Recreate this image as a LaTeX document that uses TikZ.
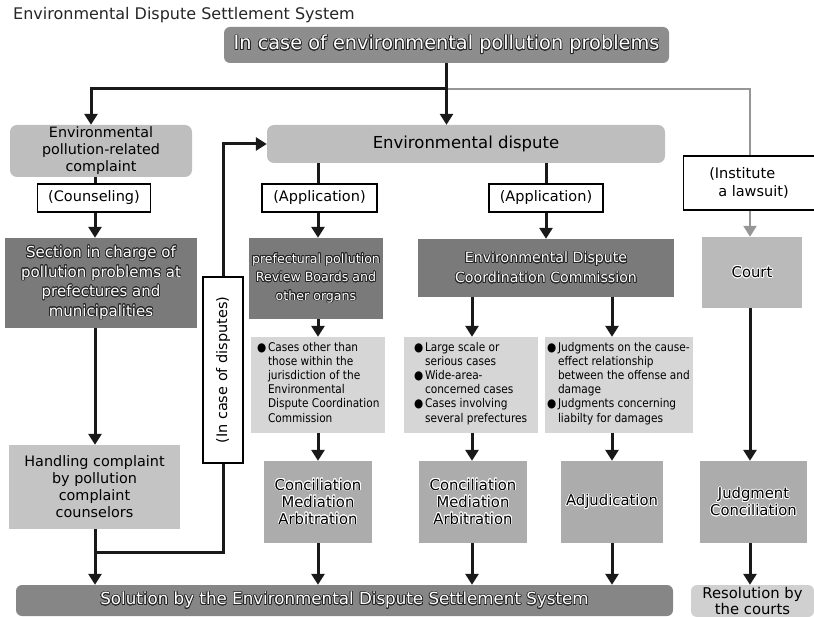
\documentclass[tikz,border=0pt]{standalone}
\usepackage{fontspec}
\setmainfont{DejaVu Sans}
\newfontfamily\condfont{DejaVu Sans}[FakeStretch=0.88]
\usepackage[copies]{contour}
\contourlength{0.7pt}
\contournumber{20}
\usetikzlibrary{arrows.meta}
\definecolor{cTop}{RGB}{141,141,141}
\definecolor{cDark}{RGB}{122,122,122}
\definecolor{cLight}{RGB}{190,190,190}
\definecolor{cHand}{RGB}{196,196,196}
\definecolor{cCase}{RGB}{214,214,214}
\definecolor{cMid}{RGB}{172,172,172}
\definecolor{cCourt}{RGB}{186,186,186}
\definecolor{cSol}{RGB}{134,134,134}
\definecolor{cRes}{RGB}{208,208,208}
\definecolor{cLine}{RGB}{25,25,25}
\definecolor{cGray}{RGB}{150,150,150}
\newcommand\wo[1]{\contour{black!85}{#1}}
\newcommand\ko[1]{\contour{white}{#1}}
\newcommand\fsz[2]{\fontsize{#1pt}{#2pt}\selectfont}
\newlength\bw \setlength\bw{11pt}
\newcommand\bul{\makebox[\bw][l]{●}}
\newcommand\ind{\hspace*{\bw}}
\begin{document}
\begin{tikzpicture}[x=1pt,y=-1pt,
  boxbase/.style={rectangle, inner sep=0pt, align=center},
  topbox/.style={boxbase, fill=cTop, text=white, rounded corners=6pt},
  solbox/.style={boxbase, fill=cSol, text=white, rounded corners=6pt},
  dkbox/.style={boxbase, fill=cDark, text=white},
  ltbox/.style={boxbase, fill=cLight, text=black, rounded corners=7pt},
  handbox/.style={boxbase, fill=cHand, text=black},
  casebox/.style={boxbase, fill=cCase},
  casetext/.style={inner sep=0pt, anchor=north west, align=left, text=black, font=\condfont\fsz{12}{14.2}},
  midbox/.style={boxbase, fill=cMid, text=black},
  courtbox/.style={boxbase, fill=cCourt, text=black},
  resbox/.style={boxbase, fill=cRes, text=black, rounded corners=6pt},
  wbox/.style={boxbase, fill=white, draw=black, line width=1.1pt, text=black},
  ln/.style={draw=cLine, line width=3pt},
  arr/.style={ln, -{Triangle[width=13pt,length=11pt]}},
  gln/.style={draw=cGray, line width=2.2pt},
  garr/.style={gln, -{Triangle[width=13pt,length=11pt]}}
]
\useasboundingbox (0,0) rectangle (814,617);
% title
\node[anchor=west, inner sep=0pt, text=black!85, font=\fsz{16}{18}] (title) at (13,15) {Environmental Dispute Settlement System};
% top
\node[topbox, minimum width=445pt, minimum height=36pt, font=\fsz{19.3}{22}] (top) at (446.5,45) {\wo{In case of environmental pollution problems}};
% left column
\node[ltbox, minimum width=182pt, minimum height=52pt, font=\fsz{14.3}{17}] (comp) at (101,151) {Environmental\\pollution-related\\complaint};
\node[wbox, minimum width=113pt, minimum height=28pt, font=\fsz{14.5}{17}] (couns) at (94,198) {(Counseling)};
\node[dkbox, minimum width=192pt, minimum height=90pt, font=\fsz{15}{19.5}] (sect) at (101,283) {\wo{Section in charge of}\\\wo{pollution problems at}\\\wo{prefectures and}\\\wo{municipalities}};
\node[handbox, minimum width=171pt, minimum height=84pt, font=\fsz{14.4}{17}] (hand) at (94.5,487) {Handling complaint\\by pollution\\complaint\\counselors};
\node[wbox, minimum width=40pt, minimum height=186pt] (disp) at (223,370) {};
\node[rotate=90, inner sep=0pt, font=\fsz{14.5}{17}] (disptxt) at (disp.center) {(In case of disputes)};
% environmental dispute
\node[ltbox, minimum width=398pt, minimum height=38pt, font=\fsz{16.5}{19}] (envd) at (466,144) {Environmental dispute};
\node[wbox, minimum width=115pt, minimum height=28pt, font=\fsz{14.5}{17}] (app1) at (319.5,198) {(Application)};
\node[wbox, minimum width=114pt, minimum height=28pt, font=\fsz{14.5}{17}] (app2) at (546,198) {(Application)};
\node[dkbox, minimum width=134pt, minimum height=81pt, font=\fsz{12.6}{18.5}] (pref) at (316,278.5) {\wo{prefectural pollution}\\\wo{Review Boards and}\\\wo{other organs}};
\node[dkbox, minimum width=256pt, minimum height=58pt, font=\fsz{14.2}{20}] (edcc) at (546,268) {\wo{Environmental Dispute}\\\wo{Coordination Commission}};
% cases
\node[casebox, minimum width=134pt, minimum height=96pt] (case1) at (318,385) {};
\node[casetext] (case1t) at ([xshift=6pt,yshift=-5pt]case1.north west) {\bul Cases other than\\\ind those within the\\\ind jurisdiction of the\\\ind Environmental\\\ind Dispute Coordination\\\ind Commission};
\node[casebox, minimum width=134pt, minimum height=96pt] (case2) at (471,385) {};
\node[casetext] (case2t) at ([xshift=10pt,yshift=-5pt]case2.north west) {\bul Large scale or\\\ind serious cases\\\bul Wide-area-\\\ind concerned cases\\\bul Cases involving\\\ind several prefectures};
\node[casebox, minimum width=148pt, minimum height=96pt] (case3) at (619,385) {};
\node[casetext] (case3t) at ([xshift=2pt,yshift=-5pt]case3.north west) {\bul Judgments on the cause-\\\ind effect relationship\\\ind between the offense and\\\ind damage\\\bul Judgments concerning\\\ind liabilty for damages};
% procedures
\node[midbox, minimum width=108pt, minimum height=82pt, font=\fsz{14.8}{17}] (conc1) at (318,502) {\ko{Conciliation}\\\ko{Mediation}\\\ko{Arbitration}};
\node[midbox, minimum width=108pt, minimum height=82pt, font=\fsz{14.8}{17}] (conc2) at (473,502) {\ko{Conciliation}\\\ko{Mediation}\\\ko{Arbitration}};
\node[midbox, minimum width=102pt, minimum height=82pt, font=\fsz{14.8}{17}] (adj) at (612,502) {\ko{Adjudication}};
% court column
\node[wbox, minimum width=131pt, minimum height=54pt, align=left, font=\fsz{14.5}{18}] (inst) at (749,183) {(Institute\\\hspace*{9pt}a lawsuit)};
\node[courtbox, minimum width=100pt, minimum height=71pt, font=\fsz{14.8}{17}] (court) at (752,272.5) {\ko{Court}};
\node[midbox, minimum width=107pt, minimum height=82pt, font=\fsz{14.8}{17}] (judg) at (753.5,502) {\ko{Judgment}\\\ko{Conciliation}};
\node[resbox, minimum width=123pt, minimum height=32pt, font=\fsz{14.8}{15.5}] (res) at (752.5,601) {Resolution by\\the courts};
% solution
\node[solbox, minimum width=657pt, minimum height=31pt, font=\fsz{16.7}{19}] (sol) at (344.5,600.5) {\wo{Solution by the Environmental Dispute Settlement System}};
% helper coordinates
\coordinate (j) at (446.5,89);
\coordinate (lx) at (91,0);
\coordinate (gx) at (750,0);
\coordinate (cx) at (95,0);
\coordinate (my) at (0,552);
\coordinate (a1) at (318,0);
\coordinate (a2) at (546,0);
\coordinate (b2) at (472,0);
\coordinate (b3) at (612,0);
% connectors
\draw[gln] (j) -| (gx |- inst.north);
\draw[garr] (gx |- inst.south) -- (gx |- court.north);
\draw[arr] (top.south) -- (top.south |- envd.north);
\draw[arr] (j) -| (lx |- comp.north);
\draw[ln] (cx |- comp.south) -- (cx |- couns.north);
\draw[arr] (cx |- couns.south) -- (cx |- sect.north);
\draw[arr] (cx |- sect.south) -- (cx |- hand.north);
\draw[arr] (cx |- hand.south) -- (cx |- sol.north);
\draw[ln] (disp.south) |- (cx |- my);
\draw[arr] (disp.north) |- (envd.west);
\draw[ln] (a1 |- envd.south) -- (a1 |- app1.north);
\draw[arr] (a1 |- app1.south) -- (a1 |- pref.north);
\draw[arr] (a1 |- pref.south) -- (a1 |- case1.north);
\draw[arr] (a1 |- case1.south) -- (a1 |- conc1.north);
\draw[arr] (a1 |- conc1.south) -- (a1 |- sol.north);
\draw[ln] (a2 |- envd.south) -- (a2 |- app2.north);
\draw[arr] (a2 |- app2.south) -- (a2 |- edcc.north);
\draw[arr] (b2 |- edcc.south) -- (b2 |- case2.north);
\draw[arr] (b2 |- case2.south) -- (b2 |- conc2.north);
\draw[arr] (b2 |- conc2.south) -- (b2 |- sol.north);
\draw[arr] (b3 |- edcc.south) -- (b3 |- case3.north);
\draw[arr] (b3 |- case3.south) -- (b3 |- adj.north);
\draw[arr] (b3 |- adj.south) -- (b3 |- sol.north);
\draw[arr] (gx |- court.south) -- (gx |- judg.north);
\draw[arr] (gx |- judg.south) -- (gx |- res.north);
\end{tikzpicture}
\end{document}
